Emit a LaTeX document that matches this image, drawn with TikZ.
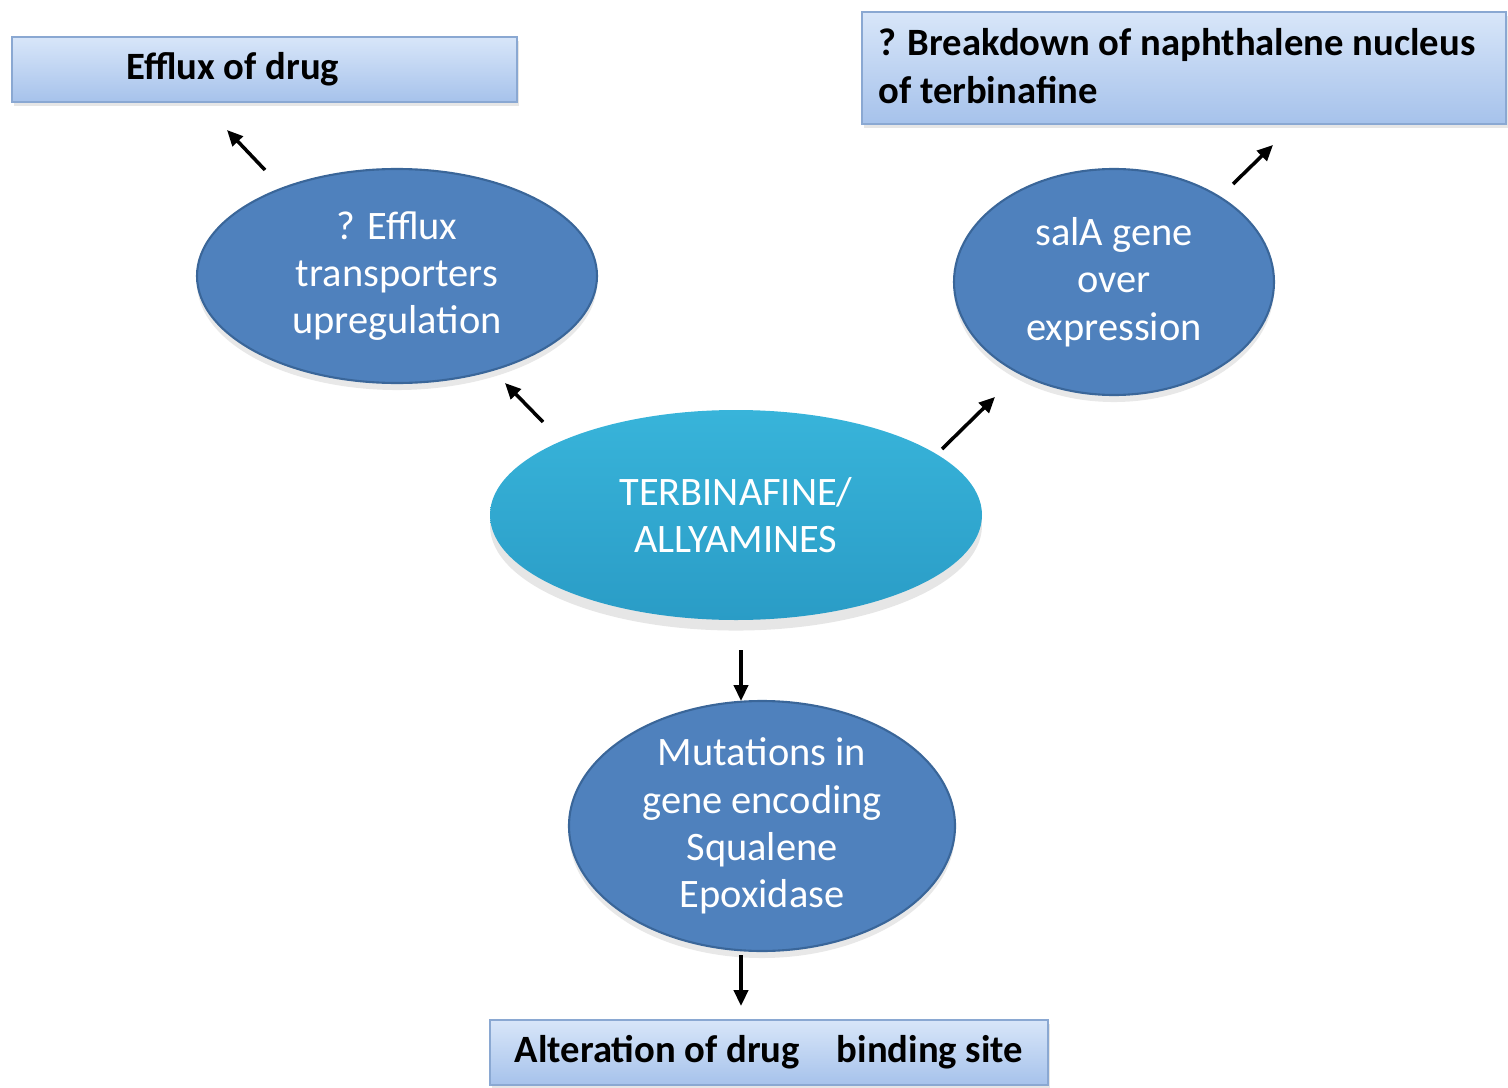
\documentclass[tikz,border=0pt]{standalone}
\usepackage{fontspec}
\setmainfont{Carlito}
\usetikzlibrary{shadows,arrows.meta,shapes.geometric}
\definecolor{ellblue}{HTML}{4F81BD}
\definecolor{ellborder}{HTML}{3A6699}
\definecolor{cyanA}{HTML}{38B4DA}
\definecolor{cyanB}{HTML}{2A9CC6}
\definecolor{boxtop}{HTML}{D8E6F9}
\definecolor{boxbot}{HTML}{A6C2EB}
\definecolor{boxborder}{HTML}{8AA8D2}
\tikzset{
  ell/.style={ellipse, draw=ellborder, line width=1.2pt, fill=ellblue, inner sep=0pt,
    text=white, align=center, font=\fontsize{23}{27}\selectfont,
    drop shadow={opacity=0.18, shadow xshift=0pt, shadow yshift=-4pt}},
  centre/.style={ellipse, draw=none, top color=cyanA, bottom color=cyanB, inner sep=0pt,
    text=white, align=center, font=\fontsize{23}{27}\selectfont,
    drop shadow={opacity=0.2, shadow xshift=0pt, shadow yshift=-6pt}},
  resbox/.style={rectangle, draw=boxborder, line width=1pt, top color=boxtop, bottom color=boxbot,
    inner sep=0pt, font=\bfseries\fontsize{22}{27}\selectfont,
    drop shadow={opacity=0.2, shadow xshift=1pt, shadow yshift=-2pt}},
  boxtext/.style={inner sep=0pt, font=\bfseries\fontsize{22}{27}\selectfont},
  arr/.style={-{Stealth[length=9pt,width=8pt,inset=0pt]}, line width=2pt, black}
}
\begin{document}
\begin{tikzpicture}[x=0.02cm,y=-0.02cm]
\useasboundingbox (0,0) rectangle (1508,1088);
% boxes
\node[resbox, minimum width=505*0.02cm, minimum height=65*0.02cm] (b1) at (264.5,69.5) {};
\node[boxtext, anchor=west] (t1) at (126,69) {Efflux of drug};
\node[resbox, minimum width=644*0.02cm, minimum height=112*0.02cm] (b2) at (1184,68) {};
\node[boxtext, anchor=west, align=left] (t2) at (878,66) {? Breakdown of naphthalene nucleus\\of terbinafine};
\node[resbox, minimum width=558*0.02cm, minimum height=65*0.02cm] (b3) at (769,1052.5) {Alteration of drug \hspace{0.5em} binding site};
% ellipses
\node[ell, minimum width=400*0.02cm, minimum height=214*0.02cm] (eft) at (397,276) {? Efflux\\transporters\\upregulation};
\node[ell, minimum width=320*0.02cm, minimum height=226*0.02cm] (sal) at (1114,282) {salA gene\\over\\expression};
\node[centre, minimum width=492*0.02cm, minimum height=210*0.02cm] (tb) at (736,515) {TERBINAFINE/\\ALLYAMINES};
\node[ell, minimum width=386*0.02cm, minimum height=226*0.02cm] (mut) at (762,826) {Mutations in\\gene encoding\\Squalene\\Epoxidase};
% arrow ends
\coordinate (a1s) at (265,170); \coordinate (a1e) at (227,130);
\coordinate (a2s) at (543,422); \coordinate (a2e) at (505,383);
\coordinate (a3s) at (942,449); \coordinate (a3e) at (995,397);
\coordinate (a4s) at (1233,184); \coordinate (a4e) at (1273,145);
\coordinate (a5s) at (741,650); \coordinate (a5e) at (741,701);
\coordinate (a6s) at (741,955); \coordinate (a6e) at (741,1006);
\draw[arr] (a1s) -- (a1e);
\draw[arr] (a2s) -- (a2e);
\draw[arr] (a3s) -- (a3e);
\draw[arr] (a4s) -- (a4e);
\draw[arr] (a5s) -- (a5e);
\draw[arr] (a6s) -- (a6e);
\end{tikzpicture}
\end{document}
